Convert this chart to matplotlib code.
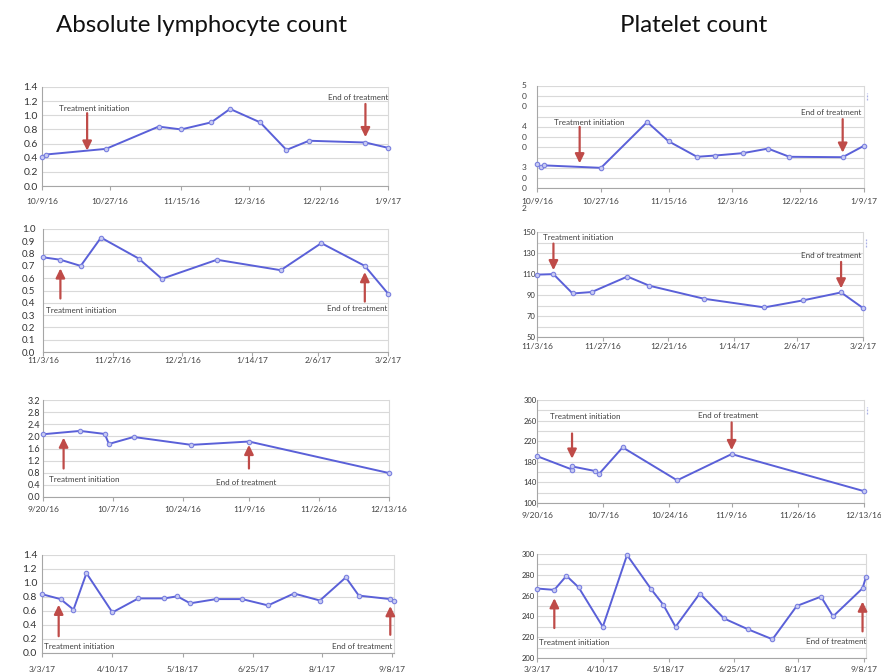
import matplotlib
matplotlib.use('Agg')
import matplotlib.pyplot as plt
import matplotlib.dates as mdates
import pandas as pd
import numpy as np

plt.rcParams['font.family'] = ['Lato', 'DejaVu Sans']

W, H = 881, 672
LINE = '#5a60d8'
FACE = '#c8cbf2'
ARROW = '#bf4b48'
GRID = '#d9d9d9'

# --- Absolute lymphocyte count, patient 1 ---
alc1_dates = ['2016-10-09', '2016-10-10', '2016-10-26', '2016-11-09', '2016-11-15', '2016-11-23',
              '2016-11-28', '2016-12-06', '2016-12-13', '2016-12-19', '2017-01-03', '2017-01-09']
alc1_vals = [0.41, 0.445, 0.525, 0.84, 0.80, 0.90, 1.09, 0.90, 0.51, 0.64, 0.615, 0.54]
alc1_ticks = ['2016-10-09', '2016-10-27', '2016-11-15', '2016-12-03', '2016-12-22', '2017-01-09']

# --- Platelet count, patient 1 ---
plt1_dates = ['2016-10-09', '2016-10-10', '2016-10-11', '2016-10-27', '2016-11-09', '2016-11-15',
              '2016-11-23', '2016-11-28', '2016-12-06', '2016-12-13', '2016-12-19', '2017-01-03',
              '2017-01-09']
plt1_vals = [309, 303, 306, 300, 412, 365, 327, 330, 336, 347, 327, 326, 354]

# --- Absolute lymphocyte count, patient 2 ---
alc2_dates = ['2016-11-03', '2016-11-09', '2016-11-16', '2016-11-23', '2016-12-06', '2016-12-14',
              '2017-01-02', '2017-01-24', '2017-02-07', '2017-02-22', '2017-03-02']
alc2_vals = [0.77, 0.75, 0.70, 0.93, 0.76, 0.595, 0.75, 0.665, 0.885, 0.70, 0.475]
alc2_ticks = ['2016-11-03', '2016-11-27', '2016-12-21', '2017-01-14', '2017-02-06', '2017-03-02']

# --- Platelet count, patient 2 ---
plt2_dates = ['2016-11-03', '2016-11-09', '2016-11-16', '2016-11-23', '2016-12-06', '2016-12-14',
              '2017-01-03', '2017-01-25', '2017-02-08', '2017-02-22', '2017-03-02']
plt2_vals = [109.5, 110, 91.6, 93, 107.7, 99, 86.6, 78.4, 85, 92.6, 77.8]

# --- Absolute lymphocyte count, patient 3 ---
alc3_dates = ['2016-09-20', '2016-09-29', '2016-10-05', '2016-10-06', '2016-10-12', '2016-10-26',
              '2016-11-09', '2016-12-13']
alc3_vals = [2.07, 2.18, 2.08, 1.75, 1.98, 1.72, 1.83, 0.79]
alc3_ticks = ['2016-09-20', '2016-10-07', '2016-10-24', '2016-11-09', '2016-11-26', '2016-12-13']

# --- Platelet count, patient 3 ---
plt3_dates = ['2016-09-20', '2016-09-29', '2016-09-29', '2016-10-05', '2016-10-06', '2016-10-12',
              '2016-10-26', '2016-11-09', '2016-12-13']
plt3_vals = [191, 165, 171, 162, 157, 208, 144, 195, 123]

# --- Absolute lymphocyte count, patient 4 ---
alc4_dates = ['2017-03-03', '2017-03-13', '2017-03-20', '2017-03-27', '2017-04-10', '2017-04-24',
              '2017-05-08', '2017-05-15', '2017-05-22', '2017-06-05', '2017-06-19', '2017-07-03',
              '2017-07-17', '2017-07-31', '2017-08-14', '2017-08-21', '2017-09-07', '2017-09-09']
alc4_vals = [0.84, 0.77, 0.62, 1.14, 0.58, 0.78, 0.78, 0.81, 0.71, 0.77, 0.77, 0.68,
             0.85, 0.75, 1.08, 0.82, 0.77, 0.74]
alc4_ticks = ['2017-03-03', '2017-04-10', '2017-05-18', '2017-06-25', '2017-08-01', '2017-09-08']

# --- Platelet count, patient 4 ---
plt4_dates = alc4_dates
plt4_vals = [266.8, 265.5, 279, 268, 230, 299, 266, 251, 230, 262, 238, 227.5,
             218, 250, 259, 240, 267, 278]

# arrows: (date, tail value, head value)
alc1_arrows = [('2016-10-21', 1.03, 0.50), ('2017-01-03', 1.16, 0.69)]
plt1_arrows = [('2016-10-21', 400, 311), ('2017-01-03', 419, 337)]
alc2_arrows = [('2016-11-09', 0.435, 0.68), ('2017-02-22', 0.41, 0.65)]
plt2_arrows = [('2016-11-09', 139, 113.7), ('2017-02-22', 121.6, 96.4)]
alc3_arrows = [('2016-09-25', 0.94, 1.96), ('2016-11-09', 0.94, 1.72)]
plt3_arrows = [('2016-09-29', 235, 186), ('2016-11-09', 256.5, 202.6)]
alc4_arrows = [('2017-03-12', 0.24, 0.69), ('2017-09-07', 0.26, 0.67)]
plt4_arrows = [('2017-03-13', 228.8, 257.5), ('2017-09-07', 225.6, 254.3)]


def rect(l, t, r, b):
    return [l / W, 1 - b / H, (r - l) / W, (b - t) / H]


def dnum(d):
    return mdates.date2num(pd.to_datetime(d))


def tick_label(d):
    d = pd.to_datetime(d)
    return f'{d.month}/{d.day}/{d.year % 100}'


def panel(fig, r, dates, vals, ticks, xlim, ylim, grid_step, major, yfmt, ysize, ypad,
          xpad, arrows, notes, stub=False):
    ax = fig.add_axes(rect(*r))
    x = [dnum(d) for d in dates]
    ax.plot(x, vals, color=LINE, lw=1.4, marker='o', ms=3.2, mfc=FACE, mec='#7a80e0',
            mew=0.8, zorder=3, clip_on=False)
    ax.set_xlim(dnum(xlim[0]), dnum(xlim[1]))
    ax.set_ylim(*ylim)
    ax.set_xticks([dnum(t) for t in ticks])
    ax.set_xticklabels([tick_label(t) for t in ticks])
    ax.set_yticks(np.arange(ylim[0], ylim[1] + grid_step / 2, grid_step), minor=True)
    if major is not None:
        ax.set_yticks(major)
        ax.set_yticklabels([yfmt.format(v) for v in major])
    else:
        ax.set_yticks([])
    ax.grid(axis='y', which='both', color=GRID, lw=0.8)
    ax.set_axisbelow(True)
    ax.tick_params(axis='x', length=3, width=0.8, color='#a6a6a6', labelsize=6,
                   labelcolor='#404040', pad=xpad)
    ax.tick_params(axis='y', which='both', length=0, labelsize=ysize, labelcolor='#333333',
                   pad=ypad)
    ax.spines['top'].set_visible(False)
    ax.spines['left'].set_color('#a6a6a6')
    ax.spines['bottom'].set_color('#a6a6a6')
    ax.spines['right'].set_color('#d9d9d9')
    for sp in ax.spines.values():
        sp.set_linewidth(0.8)
    for d, tail, head in arrows:
        ax.annotate('', xy=(dnum(d), head), xytext=(dnum(d), tail),
                    arrowprops=dict(arrowstyle='-|>,head_width=0.27,head_length=0.55',
                                    color=ARROW, lw=1.6, shrinkA=0, shrinkB=0))
    for tx, ty, ha, s in notes:
        ax.text(tx, ty, s, transform=ax.transAxes, ha=ha, va='center', fontsize=5.8,
                color='#404040')
    if stub:
        # leftover edge of the Excel legend box
        ax.plot([1.01, 1.01], [0.86, 0.93], transform=ax.transAxes, color='#aab0e6',
                lw=0.9, ls=(0, (1.5, 1)), clip_on=False)
    return ax


fig = plt.figure(figsize=(W / 100, H / 100), dpi=100)

fig.text(201.5 / W, 1 - 25 / H, 'Absolute lymphocyte count', ha='center', va='center',
         fontsize=17.3, color='#111111')
fig.text(694 / W, 1 - 25 / H, 'Platelet count', ha='center', va='center',
         fontsize=17.3, color='#111111')

TI = 'Treatment initiation'
EOT = 'End of treatment'

panel(fig, (42, 87, 388, 186), alc1_dates, alc1_vals, alc1_ticks,
      ('2016-10-09', '2017-01-09'), (0, 1.4), 0.2, np.arange(0, 1.41, 0.2), '{:.1f}',
      7.5, 3, 5.5, alc1_arrows, [(0.05, 0.778, 'left', TI), (1.0, 0.89, 'right', EOT)])

ax2 = panel(fig, (537, 86, 864, 188.3), plt1_dates, plt1_vals, alc1_ticks,
            ('2016-10-09', '2017-01-09'), (250, 500), 25, None, '',
            6, 0, 4, plt1_arrows, [(0.053, 0.64, 'left', TI), (0.992, 0.74, 'right', EOT)],
            stub=True)
# the Excel axis labels got squeezed into one digit per gridline
for v in [500, 400, 300, 200]:
    for i, ch in enumerate(str(v)):
        y = v - 25 * i
        if y < 200:
            break
        ax2.text(-0.04, y, ch, transform=ax2.get_yaxis_transform(), ha='center',
                 va='center', fontsize=6, color='#404040', clip_on=False)

panel(fig, (43, 229, 388, 352), alc2_dates, alc2_vals, alc2_ticks,
      ('2016-11-03', '2017-03-02'), (0, 1.0), 0.1, np.arange(0, 1.01, 0.1), '{:.1f}',
      7, 5.5, 0.5, alc2_arrows, [(0.008, 0.336, 'left', TI), (0.998, 0.352, 'right', EOT)])

panel(fig, (537, 232, 863, 337.3), plt2_dates, plt2_vals, alc2_ticks,
      ('2016-11-03', '2017-03-02'), (50, 150), 10, np.arange(50, 151, 20), '{:d}',
      5.5, 1, 1, plt2_arrows, [(0.017, 0.95, 'left', TI), (0.996, 0.78, 'right', EOT)],
      stub=True)

panel(fig, (43, 400, 389, 497), alc3_dates, alc3_vals, alc3_ticks,
      ('2016-09-20', '2016-12-13'), (0, 3.2), 0.4, np.arange(0, 3.21, 0.4), '{:.1f}',
      6.5, 2, 3.5, alc3_arrows, [(0.017, 0.18, 'left', TI), (0.587, 0.147, 'center', EOT)])

panel(fig, (537, 400, 864, 503), plt3_dates, plt3_vals, alc3_ticks,
      ('2016-09-20', '2016-12-13'), (100, 300), 20, np.arange(100, 301, 40), '{:d}',
      5.5, 0.5, 3.5, plt3_arrows, [(0.04, 0.84, 'left', TI), (0.493, 0.85, 'left', EOT)],
      stub=True)

panel(fig, (42, 555, 394, 653), alc4_dates, alc4_vals, alc4_ticks,
      ('2017-03-03', '2017-09-09'), (0, 1.4), 0.2, np.arange(0, 1.41, 0.2), '{:.1f}',
      7.5, 3.5, 6, alc4_arrows, [(0.007, 0.064, 'left', TI), (0.996, 0.07, 'right', EOT)])

panel(fig, (537, 554, 866, 658), plt4_dates, plt4_vals, alc4_ticks,
      ('2017-03-03', '2017-09-09'), (200, 300), 10, np.arange(200, 301, 20), '{:d}',
      5.5, 1.5, 2.5, plt4_arrows, [(0.007, 0.15, 'left', TI), (1.0, 0.157, 'right', EOT)])

fig.savefig('out.png', dpi=100)
